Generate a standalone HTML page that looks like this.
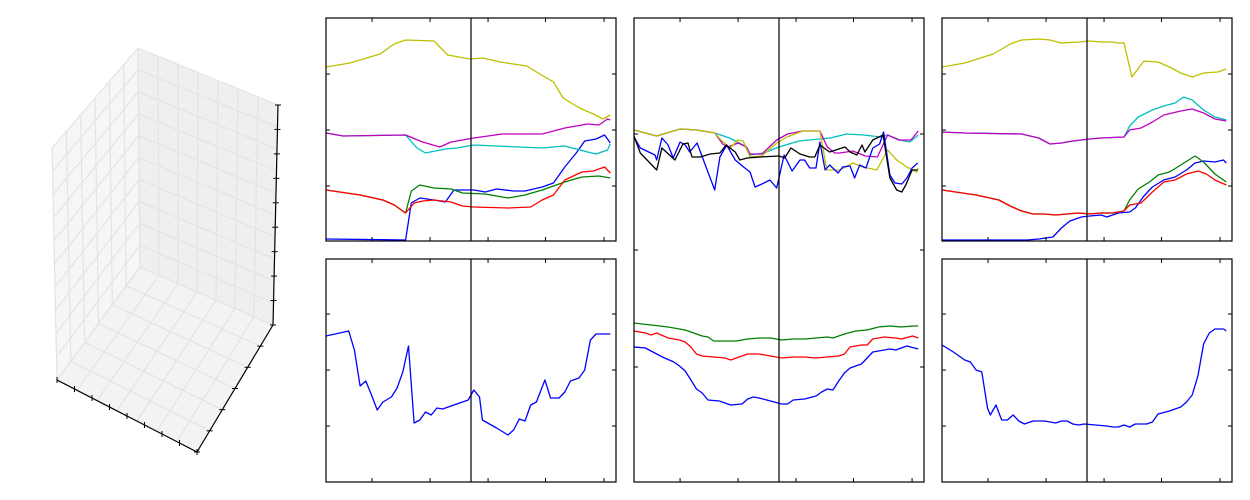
<!DOCTYPE html>
<html><head><meta charset="utf-8"><style>
html,body{margin:0;padding:0;background:#fff;}
svg{display:block;font-family:"Liberation Sans",sans-serif;}
</style></head><body>
<svg id="fig" width="1250" height="500" viewBox="0 0 1250 500" xmlns="http://www.w3.org/2000/svg">
<rect width="1250" height="500" fill="#fff"/>
<g id="axes3d"></g>
<g id="panels"></g>
</svg>
<script>
// ---------- Shared axis data ----------
const xDomain = [0, 51];
const xTicks = [8.1, 18.3, 28.5, 38.6, 48.9];
const splitX = [25.5];
const topYTicks = [55, 111, 167];
const bottomYTicks = [56, 112, 168];
const tallYTicks = [115, 232, 348];

// ---------- Panel A top ----------
const aTopBlueX = [0,14,15,16.5,19,21,22.5,26,28,30,33,35,38,40,42,44,45.5,47.5,49,50];
const aTopBlueY = [2,1,38,43,41,39,51,51,49,52,50,50,54,58,74,88,100,102,106,98];
const aTopGreenX = [0,6,10,12,14,15,16.5,19,22,24,28,32,35,38,42,45,48,50];
const aTopGreenY = [51,46,41,36,28,50,56,53,52,48,47,43,46,51,59,64,65,63];
const aTopRedX = [0,6,10,12,14,15.5,17,19,22,24,26,32,36,38,40,42,45,47,49,50];
const aTopRedY = [51,46,41,36,28,38,40,41,39,35,34,33,34,41,46,61,69,70,74,68];
const aTopCyanX = [0,3,14,16,17.5,21,23,26,30,38,42,46,47.5,49.5,50];
const aTopCyanY = [108,105,106,93,88,92,93,96,95,93,95,89,87,91,97];
const aTopMagentaX = [0,3,14,17,20,22,26,31,38,42,46,48,49.5,50];
const aTopMagentaY = [108,105,106,99,94,99,103,107,107,113,117,116,122,121];
const aTopYellowX = [0,4.2,9.5,12,14,19,21.4,25.3,27.6,30.6,35.3,37.6,40,41.7,44.6,47,48.7,50];
const aTopYellowY = [174,178,187,197,201,200,186,182,183,179,175,167,159,143,133,127,122,126];

// ---------- Panel A bottom ----------
const aBotBlueX = [0,4,5,6,7,8,9,10,11.5,12.5,13.5,14.5,15.5,16.5,17.5,18.5,19.5,20.5,22,25,26,27,27.5,30,32,33,34,35,36,37,38.5,39.5,41,42,43,44.5,45.5,46.5,47.5,49,50];
const aBotBlueY = [146,151,132,96,101,87,72,80,85,94,110,136,59,62,70,67,74,73,76,82,92,85,62,54,47,52,63,61,77,80,102,84,84,90,101,104,112,142,148,148,148];

// ---------- Panel B (tall) ----------
const bGreenX = [0,3,6,9,12,13,14,16,18,20,22,24,26,28,30,32,34,35,37,39,41,43,45,47,49,50];
const bGreenY = [159,157,155,152,146,145,141,141,141,143,144,144,142,143,143,144,145,144,148,151,152,155,156,155,156,156];
const bRedX = [0,2,3,4,6,8,9,10,11,12,14,16,17,19,20,22,24,26,28,30,32,34,36,37,38,40,41,42,44,46,47,49,50];
const bRedY = [151,149,147,149,144,142,140,135,128,126,125,124,122,126,128,128,126,124,125,125,124,125,126,128,135,137,137,143,145,144,143,146,144];
const bBlueLowX = [0,2,3,5,7,8,9,10,11,12,13,15,17,19,20,21,22,24,26,27,28,30,32,33,34,35,36,37,38,40,42,44,45,46,48,50];
const bBlueLowY = [135,134,131,125,120,116,111,102,93,89,82,81,77,78,83,85,84,81,78,78,82,83,86,90,93,92,101,109,114,118,130,132,133,132,136,133];
const bCyanX = [0,4,8.1,11.1,14.2,16.8,19.5,20.4,22.8,25.5,29,32.7,34.5,37.4,40.4,43.4,44.6,46.7,48.5,50];
const bCyanY = [352,346,353,352,349,344,336,327,329,335,341,343,344,348,347,345,347,342,340,347];
const bMagentaX = [0,4,8.1,11.1,14.2,15.6,16.5,18.3,19.8,20.4,22.5,25.1,27,29.7,32.7,34,35.3,36.2,38.5,40.7,42.8,44.6,46.6,48.7,50];
const bMagentaY = [352,346,353,352,349,338,335,339,335,328,328,342,348,351,351,335,329,329,331,326,325,347,342,342,351];
const bYellowX = [0,4,8.1,11.1,14.2,15.3,16.9,18.3,19.2,20.4,22.5,25.1,26.9,29.7,32.7,33.9,36.2,38.5,40.2,42.7,44.6,46.2,48,49.7,50];
const bYellowY = [352,346,353,352,349,342,334,342,341,325,326,339,345,351,351,312,312,319,315,312,332,322,315,310,314];
const bBlueHighX = [0,1.1,3.7,4,4.9,6,6.9,8.1,9,9.8,11.1,13,14.2,15.1,16.3,17.8,19.5,20.4,21.3,22.5,23.9,25.1,26.4,27.8,29.2,30,30.9,32,32.7,33.6,34.4,35.9,36.7,38,38.8,39.7,40.8,42,43.2,43.9,45,45.9,47.1,48,48.9,49.9];
const bBlueHighY = [345,334,327,322,344,337,324,340,337,330,339,310,292,325,337,322,314,310,295,298,302,294,327,311,322,322,314,314,340,312,317,309,315,316,304,317,314,334,338,350,307,299,298,304,314,319];
const bBlackX = [0,1.1,4,4.9,7.2,8.6,9.5,10.2,11.6,13.4,15.1,16.2,17.8,18.6,19.9,22.1,25.5,26.5,27.6,29.2,30.9,31.8,32.7,34.4,37.1,38,39.2,40.1,40.6,42,43.8,45,46.2,47.1,47.8,48.9,49.9];
const bBlackY = [346,329,312,334,322,338,339,325,325,328,329,337,330,322,324,325,326,324,334,328,325,325,337,330,335,330,327,337,330,342,347,304,292,290,297,312,312];

// ---------- Panel C top ----------
const cTopBlueX = [0,15,17,19.5,21,22.5,24.5,26,28,29,31,33,34,35.5,37,39,41,43,44.5,46,48,49.5,50];
const cTopBlueY = [1,1,2,4,13,20,24,25,26,24,28,29,33,45,54,61,64,71,78,80,79,81,78];
const cTopGreenX = [0,6,10,12,14,16,18,20,22,24,26,28,30,32,33,34.5,36.5,38,40,42,44.5,46,48,50];
const cTopGreenY = [51,46,41,35,30,27,27,26,27,28,27,28,28,30,41,52,59,66,69,76,85,79,67,59];
const cTopRedX = [0,6,10,12,14,16,18,20,22,24,26,28,30,32,33,35,37,39,41,43,45,46.5,48,50];
const cTopRedY = [51,46,41,35,30,27,27,26,27,28,27,28,28,30,36,38,49,59,61,67,70,67,61,56];
const cTopCyanX = [0,4,14,17,19,21,23,26,28,32,33,34.5,37,39,41,42.5,44,46,48,50];
const cTopCyanY = [109,108,107,103,97,98,100,102,103,104,115,124,131,135,138,144,141,131,124,121];
const cTopMagentaX = [0,4,14,17,19,21,23,26,28,32,33,35,37,39,42,44,46,48,50];
const cTopMagentaY = [109,108,107,103,97,98,100,102,103,104,111,113,119,126,130,132,128,122,120];
const cTopYellowX = [0,4,9,12,14,17,19,21,24,26,28,30,31,32,33.4,35.5,38,40,42,44,46,48.5,50];
const cTopYellowY = [174,178,187,197,201,202,201,198,199,200,199,199,198,198,164,180,179,174,168,164,168,169,172];

// ---------- Panel C bottom ----------
const cBotBlueX = [0,2,4,5,6,7,8,8.5,9.5,10.5,11.5,12.5,13.5,14.5,16,18,20,21,22,23,24,25,27,29,30,31,32,33,34,36,37,38,40,41,42,43,44,45,46,47,48,49.5,50];
const cBotBlueY = [137,130,122,120,112,110,74,67,77,62,62,67,61,58,61,61,59,61,61,58,57,58,57,56,55,55,57,55,58,58,60,68,71,73,75,80,87,106,138,149,153,153,151];

const C = {b:'#0000ff', g:'#008000', r:'#ff0000', c:'#00bfbf', m:'#bf00bf', y:'#bfbf00', k:'#000000'};
const NS = 'http://www.w3.org/2000/svg';
function mk(tag, attrs, parent){
  const e = document.createElementNS(NS, tag);
  for (const k in attrs) e.setAttribute(k, attrs[k]);
  parent.appendChild(e);
  return e;
}

const panels = [
  {id:'a-top', left:326, top:18, w:290, h:223, yt:topYTicks, series:[
    ['blue',aTopBlueX,aTopBlueY,C.b],['green',aTopGreenX,aTopGreenY,C.g],['red',aTopRedX,aTopRedY,C.r],
    ['cyan',aTopCyanX,aTopCyanY,C.c],['magenta',aTopMagentaX,aTopMagentaY,C.m],['yellow',aTopYellowX,aTopYellowY,C.y]]},
  {id:'a-bottom', left:326, top:259, w:290, h:223, yt:bottomYTicks, series:[['blue',aBotBlueX,aBotBlueY,C.b]]},
  {id:'b-tall', left:634, top:18, w:290, h:464, yt:tallYTicks, series:[
    ['green',bGreenX,bGreenY,C.g],['red',bRedX,bRedY,C.r],['blue-low',bBlueLowX,bBlueLowY,C.b],
    ['cyan',bCyanX,bCyanY,C.c],['magenta',bMagentaX,bMagentaY,C.m],['yellow',bYellowX,bYellowY,C.y],
    ['blue-high',bBlueHighX,bBlueHighY,C.b],['black',bBlackX,bBlackY,C.k]]},
  {id:'c-top', left:942, top:18, w:290, h:223, yt:topYTicks, series:[
    ['blue',cTopBlueX,cTopBlueY,C.b],['green',cTopGreenX,cTopGreenY,C.g],['red',cTopRedX,cTopRedY,C.r],
    ['cyan',cTopCyanX,cTopCyanY,C.c],['magenta',cTopMagentaX,cTopMagentaY,C.m],['yellow',cTopYellowX,cTopYellowY,C.y]]},
  {id:'c-bottom', left:942, top:259, w:290, h:223, yt:bottomYTicks, series:[['blue',cBotBlueX,cBotBlueY,C.b]]}
];

const root = document.getElementById('panels');
panels.forEach(p => {
  const g = mk('g', {}, root);
  
  
  const bottom = p.top + p.h;
  const xs = v => p.left + (v - xDomain[0]) / (xDomain[1] - xDomain[0]) * p.w;
  const ys = v => bottom - v;
  const clipId = 'clip-' + p.id;
  const cp = mk('clipPath', {id:clipId}, g);
  mk('rect', {x:p.left, y:p.top, width:p.w, height:p.h}, cp);
  const lines = mk('g', {'clip-path':'url(#'+clipId+')'}, g);
  p.series.forEach(s => {
    const pts = s[1].map((xv,i) => xs(xv).toFixed(1)+','+ys(s[2][i]).toFixed(1)).join(' ');
    const pl = mk('polyline', {points:pts, fill:'none', stroke:s[3], 'stroke-width':1.3, 'stroke-linejoin':'round'}, lines);
    
    
  });
  splitX.forEach(v => {
    const l = mk('line', {x1:xs(v), x2:xs(v), y1:p.top, y2:bottom, stroke:'#000', 'stroke-width':1.2}, g);
    
    
  });
  xTicks.forEach(v => {
    const t1 = mk('line', {x1:xs(v), x2:xs(v), y1:bottom, y2:bottom-4, stroke:'#000', 'stroke-width':1}, g);
    
    
    const t2 = mk('line', {x1:xs(v), x2:xs(v), y1:p.top, y2:p.top+4, stroke:'#000', 'stroke-width':1}, g);
    
    
  });
  p.yt.forEach(v => {
    const t1 = mk('line', {x1:p.left, x2:p.left+4, y1:ys(v), y2:ys(v), stroke:'#000', 'stroke-width':1}, g);
    
    
    const t2 = mk('line', {x1:p.left+p.w-4, x2:p.left+p.w, y1:ys(v), y2:ys(v), stroke:'#000', 'stroke-width':1}, g);
    
    
  });
  const fr = mk('rect', {x:p.left, y:p.top, width:p.w, height:p.h, fill:'none', stroke:'#000', 'stroke-width':1.2}, g);
  
  
});

// ---------- 3D empty axes ----------
const g3 = document.getElementById('axes3d');
const P = {
  backTop:[138,48], backBot:[140,267], leftTop:[52,148], leftBot:[57,380],
  rightTop:[278,105], rightBot:[273,325], front:[197,452]
};
function poly(pts, fill, name){
  const e = mk('polygon', {points:pts.map(q=>q.join(',')).join(' '), fill:fill, stroke:'none'}, g3);
  
  
}
poly([P.leftTop,P.backTop,P.backBot,P.leftBot], '#f6f6f6', 'left-wall');
poly([P.backTop,P.rightTop,P.rightBot,P.backBot], '#efefef', 'right-wall');
poly([P.backBot,P.rightBot,P.front,P.leftBot], '#f3f3f3', 'floor');
const lerp = (a,b,t) => [a[0]+(b[0]-a[0])*t, a[1]+(b[1]-a[1])*t];
function gl(a,b){ mk('line',{x1:a[0],y1:a[1],x2:b[0],y2:b[1],stroke:'#e3e3e3','stroke-width':1.2}, g3); }
const nX = 7, nY = 6, nZ = 10;
for (let i=0;i<=nX;i++){ const t=i/nX;
  gl(lerp(P.leftBot,P.front,t), lerp(P.backBot,P.rightBot,t));
  gl(lerp(P.backTop,P.rightTop,t), lerp(P.backBot,P.rightBot,t)); }
for (let i=0;i<=nY;i++){ const t=i/nY;
  gl(lerp(P.leftBot,P.backBot,t), lerp(P.front,P.rightBot,t));
  gl(lerp(P.leftTop,P.backTop,t), lerp(P.leftBot,P.backBot,t)); }
for (let i=0;i<=nZ;i++){ const t=i/nZ;
  gl(lerp(P.leftBot,P.leftTop,t), lerp(P.backBot,P.backTop,t));
  gl(lerp(P.backBot,P.backTop,t), lerp(P.rightBot,P.rightTop,t)); }
function axis(a,b,n,dx,dy,name){
  const l = mk('line',{x1:a[0],y1:a[1],x2:b[0],y2:b[1],stroke:'#000','stroke-width':1.2}, g3);
  
  
  for (let i=0;i<=n;i++){ const q=lerp(a,b,i/n);
    mk('line',{x1:q[0]-dx,y1:q[1]-dy,x2:q[0]+dx,y2:q[1]+dy,stroke:'#000','stroke-width':1}, g3); }
}
axis(P.leftBot, P.front, 8, 0, 3, 'x-axis-3d');
axis(P.front, P.rightBot, 6, 3, 0, 'y-axis-3d');
axis(P.rightBot, P.rightTop, 9, 3, 0, 'z-axis-3d');
</script>
</body></html>
